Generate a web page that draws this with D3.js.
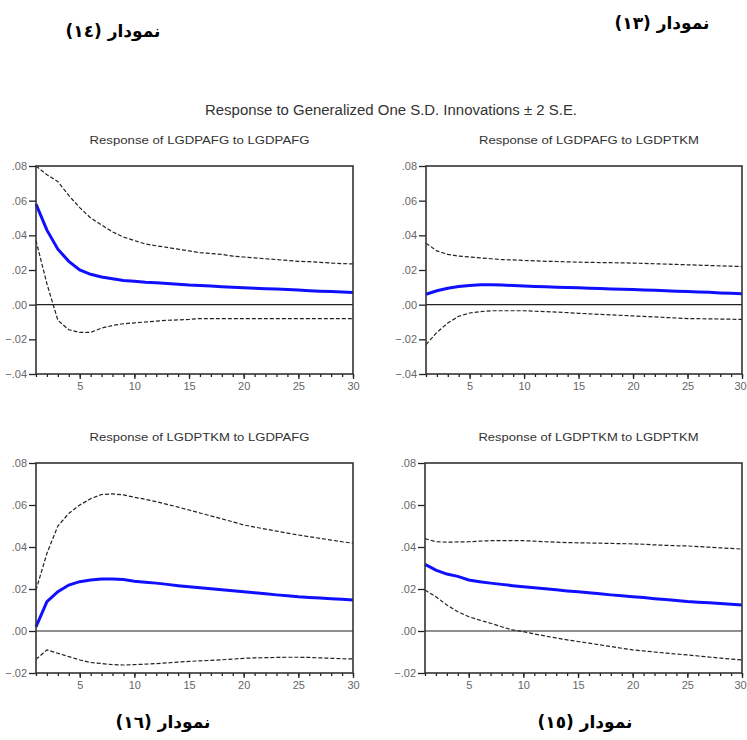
<!DOCTYPE html>
<html>
<head>
<meta charset="utf-8">
<script src="https://cdn.jsdelivr.net/npm/d3@7"></script>
<style>
  body { margin: 0; background: #fff; }
  svg { display: block; }
  .tick text { fill: #666; font-family: "Liberation Sans", Arial, sans-serif; font-size: 11px; }
  .tick line { stroke: #222; }
  .domain { display: none; }
</style>
</head>
<body>
<div id="chart"></div>
<script>
// periods on the x axis
var periods = [1,2,3,4,5,6,7,8,9,10,11,12,13,14,15,16,17,18,19,20,21,22,23,24,25,26,27,28,29,30];
var xTickLabels = [5, 10, 15, 20, 25, 30];
var yTicksTop = [-0.04, -0.02, 0, 0.02, 0.04, 0.06, 0.08];
var yTicksBottom = [-0.02, 0, 0.02, 0.04, 0.06, 0.08];

var mainTitle = "Response to Generalized One S.D. Innovations \u00b1 2 S.E.";
var panelTitles = [
  "Response of LGDPAFG to LGDPAFG",
  "Response of LGDPAFG to LGDPTKM",
  "Response of LGDPTKM to LGDPAFG",
  "Response of LGDPTKM to LGDPTKM"
];
var figureLabels = ["\u0646\u0645\u0648\u062f\u0627\u0631 (\u0661\u0664)", "\u0646\u0645\u0648\u062f\u0627\u0631 (\u0661\u0663)",
                    "\u0646\u0645\u0648\u062f\u0627\u0631 (\u0661\u0666)", "\u0646\u0645\u0648\u062f\u0627\u0631 (\u0661\u0665)"];

// LGDPAFG to LGDPAFG
var respAA = [.058,.043,.032,.025,.020,.0175,.016,.015,.014,.0135,.013,.0127,.0122,.0118,.0113,.011,.0107,.0104,.0101,.0098,.0095,.0092,.009,.0087,.0084,.0081,.0078,.0076,.0073,.007];
var upperAA = [.080,.075,.071,.063,.056,.050,.046,.042,.039,.037,.035,.034,.033,.032,.031,.030,.0295,.029,.028,.0275,.027,.0265,.026,.0255,.025,.0248,.0244,.024,.0237,.0235];
var lowerAA = [.037,.012,-.009,-.0145,-.016,-.016,-.0135,-.012,-.011,-.0105,-.010,-.0095,-.009,-.0088,-.0085,-.008,-.008,-.008,-.008,-.008,-.008,-.008,-.008,-.008,-.008,-.008,-.008,-.008,-.008,-.008];

// LGDPAFG to LGDPTKM
var respAT = [.006,.008,.0095,.0105,.011,.0115,.0115,.0113,.011,.0107,.0105,.0103,.0101,.0099,.0097,.0095,.0093,.0091,.0089,.0087,.0085,.0083,.0081,.0078,.0076,.0073,.0071,.0068,.0066,.0063];
var upperAT = [.0355,.031,.029,.028,.0275,.027,.0265,.026,.0258,.0255,.0253,.025,.0249,.0247,.0245,.0244,.0243,.0242,.0241,.024,.0238,.0236,.0234,.0232,.023,.0228,.0226,.0224,.0222,.022];
var lowerAT = [-.023,-.016,-.0106,-.0067,-.0048,-.004,-.0035,-.0035,-.0035,-.0035,-.0038,-.004,-.0043,-.0046,-.005,-.0053,-.0056,-.0059,-.0062,-.0065,-.0068,-.0071,-.0074,-.0077,-.008,-.0081,-.0082,-.0083,-.0084,-.0085];

// LGDPTKM to LGDPAFG
var respTA = [.002,.014,.0187,.0219,.0235,.0243,.0248,.0248,.0245,.0237,.0232,.0228,.0222,.0216,.0211,.0206,.0201,.0197,.0192,.0187,.0182,.0177,.0172,.0168,.0163,.016,.0157,.0154,.0151,.0148];
var upperTA = [.0195,.037,.050,.056,.060,.063,.065,.0653,.0648,.0637,.0627,.0616,.0603,.059,.0576,.0562,.0548,.0534,.052,.0505,.0495,.0485,.0476,.0466,.0457,.0449,.0441,.0433,.0425,.0418];
var lowerTA = [-.0135,-.009,-.0106,-.0122,-.0138,-.015,-.0155,-.016,-.0162,-.016,-.0158,-.0155,-.0152,-.0148,-.0145,-.0142,-.014,-.0137,-.0134,-.013,-.0128,-.0127,-.0126,-.0125,-.0125,-.0126,-.0128,-.013,-.0132,-.0133];

// LGDPTKM to LGDPTKM
var respTT = [.0317,.029,.0271,.026,.0243,.0235,.0228,.0222,.0216,.0211,.0206,.0201,.0196,.0191,.0187,.0182,.0177,.0172,.0168,.0163,.0159,.0154,.015,.0145,.014,.0137,.0134,.0131,.0127,.0124];
var upperTT = [.044,.0425,.0423,.0424,.0425,.0428,.043,.043,.043,.043,.0428,.0425,.0423,.0421,.042,.0419,.0418,.0417,.0416,.0415,.0413,.041,.0408,.0406,.0405,.0402,.0399,.0396,.0393,.039];
var lowerTT = [.0195,.0163,.0124,.0092,.0068,.0052,.0037,.002,.0005,-.0003,-.0014,-.0024,-.0033,-.0042,-.005,-.0058,-.0066,-.0074,-.0082,-.009,-.0095,-.01,-.0105,-.011,-.0114,-.0119,-.0124,-.0129,-.0134,-.0138];

var svg = d3.select("#chart").append("svg")
    .attr("width", 747)
    .attr("height", 740);

var panels = [
  {title: panelTitles[0], resp: respAA, upper: upperAA, lower: lowerAA, yTicks: yTicksTop, x0: 36, x1: 353, y0: 166, y1: 374},
  {title: panelTitles[1], resp: respAT, upper: upperAT, lower: lowerAT, yTicks: yTicksTop, x0: 426, x1: 742, y0: 166, y1: 374},
  {title: panelTitles[2], resp: respTA, upper: upperTA, lower: lowerTA, yTicks: yTicksBottom, x0: 36, x1: 353, y0: 463, y1: 673},
  {title: panelTitles[3], resp: respTT, upper: upperTT, lower: lowerTT, yTicks: yTicksBottom, x0: 425, x1: 742, y0: 463, y1: 673}
];

var fmt = function(d) {
  return d3.format(".2f")(d).replace("0.", ".");
};

svg.append("text")
  .attr("x", 391)
  .attr("y", 115)
  .attr("text-anchor", "middle")
  .attr("font-family", "Liberation Sans, Arial, sans-serif")
  .attr("font-size", 14)
  .attr("fill", "#333")
  .attr("textLength", 372)
  .attr("lengthAdjust", "spacingAndGlyphs")
  .text(mainTitle);

panels.forEach(function(p) {
  var x = d3.scaleLinear().domain([1, 30]).range([p.x0, p.x1]);
  var y = d3.scaleLinear().domain([p.yTicks[0], 0.08]).range([p.y1, p.y0]);
  var g = svg.append("g");

  g.append("text")
    .attr("x", (p.x0 + p.x1) / 2 + 5)
    .attr("y", p.y0 - 22)
    .attr("text-anchor", "middle")
    .attr("font-family", "Liberation Sans, Arial, sans-serif")
    .attr("font-size", 11.5)
    .attr("fill", "#333")
    .attr("textLength", 220)
    .attr("lengthAdjust", "spacingAndGlyphs")
    .text(p.title);

  g.append("g")
    .attr("transform", "translate(" + p.x0 + ",0)")
    .call(d3.axisLeft(y).tickValues(p.yTicks).tickSize(7).tickPadding(2).tickFormat(fmt));

  g.append("g")
    .attr("transform", "translate(0," + p.y1 + ")")
    .call(d3.axisBottom(x).tickValues(periods).tickSize(3).tickFormat(""));

  var xAxis = g.append("g")
    .attr("transform", "translate(0," + p.y1 + ")")
    .call(d3.axisBottom(x).tickValues(xTickLabels).tickSize(5).tickPadding(3));

  // keep the last label inside the page on the right-hand panels
  if (p.x1 > 700) {
    xAxis.selectAll(".tick text").filter(function(d) { return d === 30; }).attr("dx", -2);
  }

  g.selectAll(".tick line").attr("stroke-width", 1.3);

  // zero line
  g.append("line")
    .attr("x1", p.x0).attr("x2", p.x1)
    .attr("y1", y(0)).attr("y2", y(0))
    .attr("stroke", "#222")
    .attr("stroke-width", 1.2);

  var line = d3.line()
    .x(function(d, i) { return x(periods[i]); })
    .y(function(d) { return y(d); });

  [p.upper, p.lower].forEach(function(band) {
    g.append("path")
      .datum(band)
      .attr("fill", "none")
      .attr("stroke", "#222")
      .attr("stroke-width", 1.2)
      .attr("stroke-dasharray", "4,2")
      .attr("d", line);
  });

  g.append("path")
    .datum(p.resp)
    .attr("fill", "none")
    .attr("stroke", "#1010ff")
    .attr("stroke-width", 3)
    .attr("d", line);

  g.append("rect")
    .attr("x", p.x0).attr("y", p.y0)
    .attr("width", p.x1 - p.x0).attr("height", p.y1 - p.y0)
    .attr("fill", "none")
    .attr("stroke", "#333")
    .attr("stroke-width", 1.6);
});

var labelPos = [[113, 37], [662, 29], [163, 728], [585, 728]];
figureLabels.forEach(function(t, i) {
  svg.append("text")
    .attr("x", labelPos[i][0])
    .attr("y", labelPos[i][1])
    .attr("text-anchor", "middle")
    .attr("direction", "rtl")
    .attr("font-family", "DejaVu Sans, sans-serif")
    .attr("font-weight", "bold")
    .attr("font-size", 17)
    .attr("fill", "#000")
    .text(t);
});
</script>
</body>
</html>
